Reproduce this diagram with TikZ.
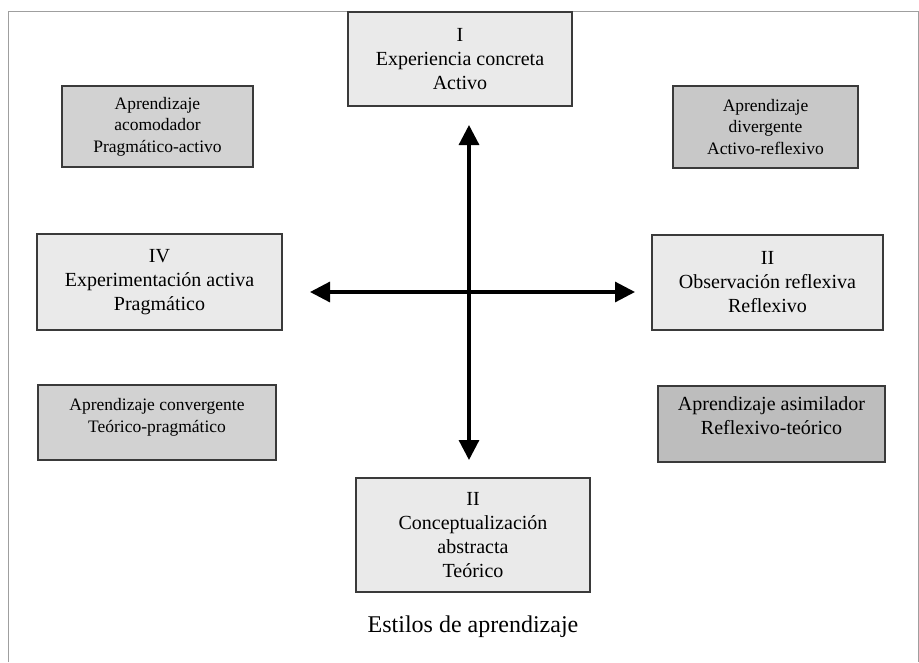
\documentclass[tikz,border=0pt]{standalone}
\usepackage{fontspec}
\setmainfont{Liberation Serif}
\usetikzlibrary{arrows.meta}
\definecolor{lightbox}{HTML}{EAEAEA}
\definecolor{midbox}{HTML}{D2D2D2}
\definecolor{divbox}{HTML}{C8C8C8}
\definecolor{darkbox}{HTML}{BDBDBD}
\definecolor{edgecol}{HTML}{3A3A3A}
\tikzset{
  boxbase/.style={draw=edgecol, line width=1.3pt, rectangle, align=center, inner sep=0pt, text=black},
  mainbox/.style={boxbase, fill=lightbox, font=\fontsize{20}{24}\selectfont},
  stylebox/.style={boxbase, fill=midbox, font=\fontsize{17.5}{21.5}\selectfont},
  axis/.style={line width=3.2pt, black, {Triangle[length=20pt,width=20pt]}-{Triangle[length=20pt,width=20pt]}},
  frame/.style={draw=gray!75, line width=1pt}
}
\begin{document}
\begin{tikzpicture}[x=1pt,y=-1pt]
\useasboundingbox (0,0) rectangle (919,662);
\fill[white] (0,0) rectangle (919,662);
% frame
\draw[frame] (8,662) -- (8,11) -- (918,11) -- (918,662);
% boxes
\node[mainbox, minimum width=224pt, minimum height=94pt] (I) at (460,59) {I\\Experiencia concreta\\Activo};
\node[stylebox, minimum width=191pt, minimum height=81pt] (acom) at (157.5,126.5) {Aprendizaje\\acomodador\\Pragmático-activo};
\node[stylebox, fill=divbox, minimum width=185pt, minimum height=82pt] (div) at (765.5,127) {Aprendizaje\\divergente\\Activo-reflexivo};
\node[mainbox, minimum width=245pt, minimum height=96pt] (IV) at (159.5,282) {IV\\Experimentación activa\\Pragmático};
\node[mainbox, minimum width=231pt, minimum height=95pt] (II) at (767.5,282.5) {II\\Observación reflexiva\\Reflexivo};
\node[stylebox, minimum width=238pt, minimum height=75pt] (conv) at (157,422.5) {Aprendizaje convergente\\Teórico-pragmático\\[-7pt]\mbox{}};
\node[stylebox, fill=darkbox, font=\fontsize{20}{24}\selectfont, minimum width=227pt, minimum height=76pt] (asim) at (771.5,424) {Aprendizaje asimilador\\Reflexivo-teórico\\[-8pt]\mbox{}};
\node[mainbox, minimum width=234pt, minimum height=114pt] (III) at (473,535) {II\\Conceptualización\\abstracta\\Teórico};
% axes
\coordinate (top) at (469,125);
\coordinate (bot) at (469,460);
\coordinate (lft) at (310,292);
\coordinate (rgt) at (635,292);
\draw[axis] (top) -- (bot);
\draw[axis] (lft) -- (rgt);
% caption
\node[font=\fontsize{24}{28}\selectfont, inner sep=0pt] (cap) at (473,627) {Estilos de aprendizaje};
\end{tikzpicture}
\end{document}
